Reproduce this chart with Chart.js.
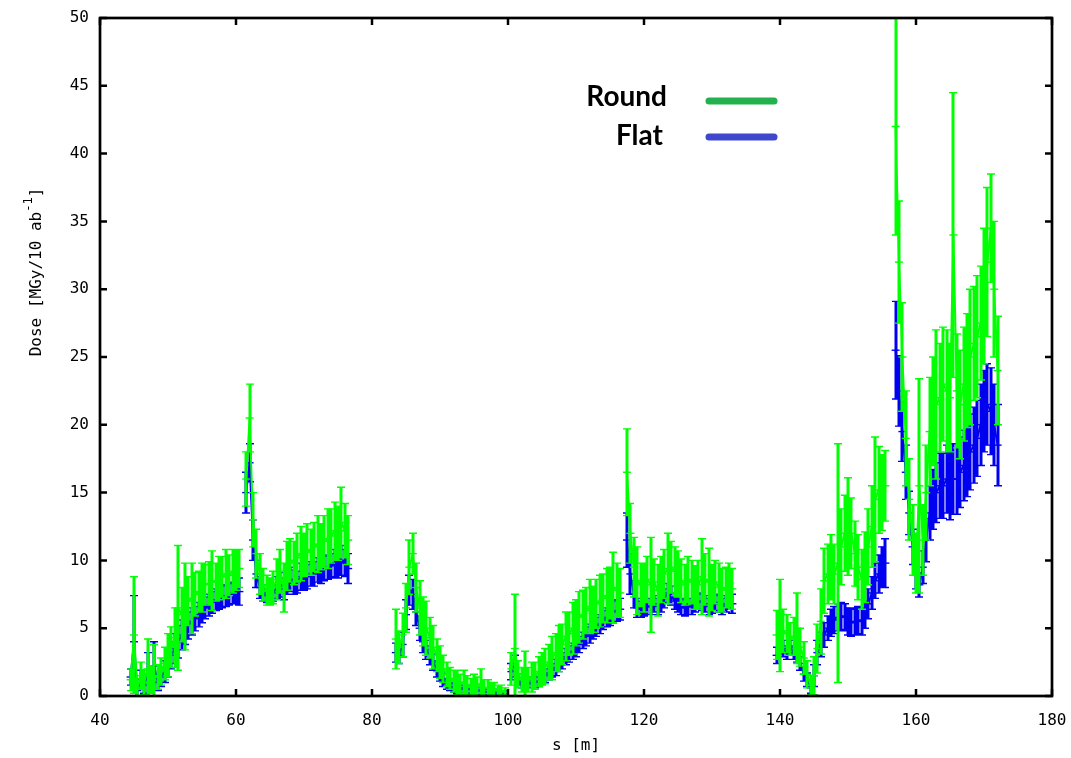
<!DOCTYPE html>
<html>
<head>
<meta charset="utf-8">
<title>Dose along s</title>
<script src="https://cdn.jsdelivr.net/npm/chart.js@4.4.1/dist/chart.umd.min.js"></script>
<style>
  html, body { margin: 0; padding: 0; background: #fff; }
  #wrap { width: 1071px; height: 758px; }
</style>
</head>
<body>
<div id="wrap"><canvas id="doseChart" width="1071" height="758"></canvas></div>
<script>
// sampled every 0.5 m, one block per magnet stretch
const segmentStart = [44.5, 61.5, 83.5, 100.5, 117.5, 139.5, 157.0];
const sampleStep = 0.5;

const roundDose = [
  [1.2,4.5,0.6,1.5,1.0,2.0,1.2,1.5,1.4,1.8, 2.4,3.0,3.6,4.3,6.5,6.0,6.6,7.0,7.2,7.5, 7.7,8.0,8.2,8.3,8.5,8.4,8.7,8.8,9.0,8.9, 9.2,9.3,9.4],
  [16.0,20.5,13.0,10.5,9.0,8.2,7.8,7.7,8.0,8.6, 9.2,8.0,9.6,10.0,9.8,10.2,10.5,10.4,10.8,10.6, 11.0,11.2,11.0,11.4,11.6,11.8,12.2,12.0,12.8,12.2, 11.5],
  [4.2,3.6,4.5,6.5,9.5,10.5,8.0,6.5,5.5,5.0, 4.3,3.6,3.0,2.5,2.0,1.6,1.3,1.1,1.0,0.9, 1.0,0.8,0.7,0.8,0.7,0.9,0.6,0.6,0.5,0.5, 0.4,0.4,0.3],
  [2.0,3.5,1.6,1.2,1.5,1.2,1.4,1.5,1.8,2.0, 2.2,2.5,2.8,3.2,3.5,3.8,4.4,4.6,5.0,5.4, 5.8,6.0,6.3,6.6,6.4,6.8,7.0,7.2,7.4,7.6, 8.0,7.8,7.6],
  [16.5,12.0,9.5,8.5,8.2,8.0,8.6,8.2,8.4,7.8, 8.6,9.0,9.4,9.5,9.2,9.0,8.5,8.2,8.6,8.4, 8.0,8.2,8.8,8.6,8.4,8.0,8.4,8.0,7.8,8.0, 8.2,7.9],
  [4.5,5.2,4.8,4.6,4.2,4.4,5.0,3.6,2.8,1.6, 0.8,1.5,3.5,5.5,8.5,9.0,9.5,9.0,9.8,11.0, 12.0,12.5,12.0,10.5,9.5,8.6,9.5,11.0,12.5,14.5, 15.2,15.0,15.5],
  [42.0,32.0,25.0,19.0,14.5,11.5,9.8,15.5,11.5,15.0, 19.5,21.0,21.5,22.0,23.0,22.5,22.0,34.0,22.5,21.5, 23.0,24.0,25.0,26.0,26.5,27.5,29.5,32.0,34.5,30.0, 24.0]
];
const roundErr = [
  [0.8,4.3,0.7,1.0,0.9,2.2,1.0,2.3,0.9,1.0, 1.2,1.6,1.5,2.2,4.6,2.0,3.2,1.8,2.6,1.6, 1.5,1.8,1.5,1.6,2.2,1.4,1.6,1.5,1.8,1.5, 1.6,1.5,1.4],
  [2.0,2.5,2.0,1.8,1.5,1.2,1.1,1.0,1.2,1.5, 1.6,1.8,1.8,1.6,1.6,1.8,2.0,1.6,1.9,1.7, 1.8,2.1,1.7,1.9,2.2,2.0,2.1,2.0,2.6,2.0, 1.8],
  [2.2,1.2,1.6,1.8,2.0,1.5,1.8,2.0,1.8,2.0, 1.5,1.6,1.2,1.2,1.0,0.9,0.8,0.8,0.9,0.7, 0.9,0.7,0.6,0.8,0.7,1.1,0.6,0.6,0.5,0.5, 0.4,0.4,0.3],
  [1.2,4.0,1.0,0.9,1.8,0.9,1.1,1.0,1.1,1.2, 1.3,1.3,1.6,1.4,1.7,1.5,1.8,1.6,1.9,1.7, 1.9,1.8,1.7,2.0,1.7,1.8,1.9,1.8,2.0,1.9, 2.6,2.0,1.8],
  [3.2,2.2,2.2,2.5,1.6,1.8,1.7,3.5,1.7,1.9, 1.7,1.8,2.6,1.9,1.8,1.7,1.6,1.5,1.7,1.6, 1.6,1.8,2.8,1.9,2.5,1.7,1.6,1.8,1.6,1.5, 1.6,1.5],
  [1.8,3.4,1.6,1.4,1.2,1.4,2.6,1.4,1.2,1.0, 0.7,1.4,1.8,2.4,2.4,2.2,2.4,2.2,8.8,2.8, 2.8,3.6,2.6,2.4,2.4,2.2,2.6,2.8,3.0,4.6, 3.2,2.8,2.6],
  [8.0,4.5,4.0,3.5,3.0,2.6,2.2,7.9,2.6,3.5, 4.0,4.0,5.5,4.0,4.2,4.5,4.0,10.5,4.2,4.0, 4.2,4.2,5.0,4.2,4.5,4.2,5.0,5.5,4.0,5.0, 4.0]
];
const flatDose = [
  [1.4,4.0,0.4,1.2,0.8,1.6,1.0,2.2,1.0,1.4, 1.8,2.4,3.0,3.5,4.0,4.5,4.9,5.2,5.5,5.7, 6.0,6.2,6.5,6.7,6.9,7.1,7.2,7.3,7.4,7.5, 7.6,7.6,7.7],
  [15.0,17.2,11.5,9.0,8.0,7.6,7.4,7.4,7.6,8.0, 8.2,7.9,8.4,8.6,8.4,8.4,8.8,8.6,8.8,9.0, 9.0,9.3,9.2,9.4,9.5,9.6,9.8,9.7,10.0,9.8, 9.4],
  [3.2,3.0,3.8,6.0,7.8,7.5,6.2,5.0,4.0,3.4, 3.0,2.5,2.0,1.6,1.2,0.9,0.7,0.6,0.6,0.5, 0.6,0.5,0.5,0.4,0.4,0.4,0.3,0.3,0.3,0.3, 0.2,0.2,0.2],
  [1.8,2.2,1.2,0.9,0.9,0.9,1.0,1.0,1.1,1.3, 1.5,1.7,1.9,2.1,2.4,2.6,2.9,3.1,3.3,3.5, 3.8,4.1,4.4,4.6,4.9,5.1,5.3,5.6,5.8,6.0, 6.2,6.3,6.4],
  [11.5,9.0,7.5,6.5,6.4,6.5,6.6,6.6,6.8,6.6, 6.8,7.2,7.6,7.4,7.0,6.8,6.6,6.5,6.6,6.6, 6.8,7.0,6.9,6.8,6.6,6.7,6.9,6.8,6.6,6.8, 7.0,6.8],
  [3.0,3.8,3.5,3.2,3.6,3.2,3.0,2.4,1.6,1.2, 0.6,1.5,3.2,3.8,4.5,5.0,5.4,5.6,5.8,5.9, 5.8,5.5,5.4,5.5,5.6,5.5,6.0,6.8,7.6,8.5, 9.0,9.5,9.8],
  [25.5,22.5,19.5,16.5,13.5,11.0,9.0,8.2,9.5,11.5, 13.5,14.5,15.0,15.5,15.5,16.0,15.5,16.0,16.0,16.5, 17.0,17.5,18.0,18.5,19.0,20.0,21.0,21.5,21.0,20.0, 18.5]
];
const flatErr = [
  [0.6,3.4,0.5,0.7,0.6,1.6,0.7,1.8,0.6,0.7, 0.8,1.0,1.0,1.1,1.2,1.1,1.1,1.0,1.0,0.9, 0.9,0.8,0.8,0.8,0.8,0.8,0.8,0.8,0.8,0.8, 0.8,0.8,1.0],
  [1.5,1.4,1.5,1.0,0.8,0.6,0.5,0.5,0.6,0.8, 0.9,0.8,0.9,0.9,0.9,0.8,1.0,0.8,0.9,0.9, 0.9,0.9,0.9,0.9,0.9,0.9,1.0,1.0,1.1,1.0, 1.1],
  [0.7,0.6,0.9,1.1,1.1,1.1,1.0,0.9,0.8,0.7, 0.7,0.6,0.6,0.5,0.5,0.4,0.3,0.3,0.4,0.3, 0.4,0.3,0.3,0.3,0.3,0.3,0.2,0.2,0.2,0.2, 0.2,0.2,0.2],
  [0.6,0.8,0.4,0.3,0.3,0.3,0.4,0.4,0.4,0.4, 0.5,0.5,0.5,0.6,0.6,0.6,0.6,0.6,0.6,0.6, 0.6,0.6,0.7,0.7,0.7,0.7,0.7,0.7,0.7,0.8, 0.8,0.8,0.8],
  [2.0,1.5,1.0,0.7,0.6,0.6,0.6,0.6,0.6,0.6, 0.6,0.7,0.7,0.7,0.6,0.6,0.6,0.6,0.6,0.6, 0.6,0.6,0.6,0.6,0.6,0.6,0.6,0.6,0.6,0.6, 0.6,0.7],
  [0.6,0.7,0.6,0.5,0.5,0.5,0.5,0.5,0.5,0.5, 0.4,0.8,0.9,0.9,0.9,0.9,1.0,1.0,1.0,1.0, 1.0,1.0,1.0,1.0,1.0,1.0,1.0,1.1,1.2,1.3, 1.4,1.5,1.8],
  [3.6,2.6,2.2,2.0,1.6,1.3,1.1,0.9,1.2,1.6, 2.0,2.2,2.2,2.4,2.4,2.5,2.5,2.6,2.6,2.6, 2.6,2.8,2.8,2.8,2.8,3.0,3.0,3.0,3.2,3.0, 3.0]
];

const sRange = [40, 180];
const sTickStep = 20;
const doseRange = [0, 50];
const doseTickStep = 5;
const seriesNames = ['Round', 'Flat'];

// flatten the blocks into {x, y, err}; a null point between blocks breaks the line
function buildPoints(dose, err) {
  const pts = [];
  dose.forEach((block, k) => {
    block.forEach((v, j) => {
      pts.push({ x: segmentStart[k] + j * sampleStep, y: v, err: err[k][j] });
    });
    pts.push({ x: segmentStart[k] + block.length * sampleStep, y: null, err: 0 });
  });
  return pts;
}

const FONT = '"DejaVu Sans Mono", monospace';

const errorBars = {
  id: 'errorBars',
  afterDatasetDraw(chart, args) {
    const ds = chart.data.datasets[args.index];
    const meta = args.meta;
    const y = chart.scales.y;
    const a = chart.chartArea;
    const ctx = chart.ctx;
    ctx.save();
    ctx.beginPath();
    ctx.rect(a.left, a.top, a.right - a.left, a.bottom - a.top);
    ctx.clip();
    ctx.strokeStyle = ds.borderColor;
    const bars = new Path2D(), caps = new Path2D();
    meta.data.forEach((el, i) => {
      const d = ds.data[i];
      if (d.y == null) return;
      const px = Math.round(el.x);
      const top = y.getPixelForValue(d.y + d.err);
      const bot = y.getPixelForValue(d.y - d.err);
      bars.moveTo(px, top); bars.lineTo(px, bot);
      caps.moveTo(px - 4, top); caps.lineTo(px + 4, top);
      caps.moveTo(px - 4, bot); caps.lineTo(px + 4, bot);
    });
    ctx.lineWidth = 3;
    ctx.stroke(bars);
    ctx.lineWidth = 1.4;
    ctx.stroke(caps);
    ctx.restore();
  }
};

const frameAndLabels = {
  id: 'frameAndLabels',
  afterDraw(chart) {
    const ctx = chart.ctx;
    const a = chart.chartArea;
    const xs = chart.scales.x, ys = chart.scales.y;
    ctx.save();
    ctx.strokeStyle = '#000';
    ctx.lineWidth = 2.7;
    ctx.strokeRect(a.left, a.top, a.right - a.left, a.bottom - a.top);

    // inward ticks on all four sides
    ctx.lineWidth = 2.5;
    ctx.beginPath();
    xs.ticks.forEach(t => {
      const px = xs.getPixelForValue(t.value);
      ctx.moveTo(px, a.bottom); ctx.lineTo(px, a.bottom - 7);
      ctx.moveTo(px, a.top); ctx.lineTo(px, a.top + 7);
    });
    ys.ticks.forEach(t => {
      const py = ys.getPixelForValue(t.value);
      ctx.moveTo(a.left, py); ctx.lineTo(a.left + 7, py);
      ctx.moveTo(a.right, py); ctx.lineTo(a.right - 7, py);
    });
    ctx.stroke();

    // axis titles
    ctx.fillStyle = '#000';
    ctx.font = '16px ' + FONT;
    ctx.textAlign = 'center';
    ctx.textBaseline = 'middle';
    ctx.fillText('s [m]', (a.left + a.right) / 2, 746);

    ctx.save();
    ctx.translate(36, 272);
    ctx.rotate(-Math.PI / 2);
    const main = 'Dose [MGy/10 ab', sup = '-1', tail = ']';
    ctx.font = '16px ' + FONT;
    const wMain = ctx.measureText(main).width;
    const wTail = ctx.measureText(tail).width;
    ctx.font = '12px ' + FONT;
    const wSup = ctx.measureText(sup).width;
    const x0 = -(wMain + wSup + wTail) / 2;
    ctx.textAlign = 'left';
    ctx.textBaseline = 'alphabetic';
    ctx.font = '16px ' + FONT;
    ctx.fillText(main, x0, 5);
    ctx.font = '12px ' + FONT;
    ctx.fillText(sup, x0 + wMain, -4);
    ctx.font = '16px ' + FONT;
    ctx.fillText(tail, x0 + wMain + wSup, 5);
    ctx.restore();

    // key
    const keyColors = ['#22b14c', '#3f48cc'];
    const keyRows = [101, 137];
    ctx.font = 'bold 28px Lato, "Open Sans", sans-serif';
    ctx.textAlign = 'right';
    ctx.textBaseline = 'alphabetic';
    ctx.lineCap = 'round';
    ctx.lineWidth = 7;
    seriesNames.forEach((name, i) => {
      ctx.fillStyle = '#000';
      ctx.fillText(name, i === 0 ? 667 : 663, keyRows[i] + 5 + i * 3);
      ctx.strokeStyle = keyColors[i];
      ctx.beginPath();
      ctx.moveTo(709, keyRows[i]);
      ctx.lineTo(774, keyRows[i]);
      ctx.stroke();
    });
    ctx.restore();
  }
};

const tickFont = { family: FONT, size: 16 };

new Chart(document.getElementById('doseChart'), {
  type: 'scatter',
  data: {
    datasets: [
      {
        label: seriesNames[0],
        data: buildPoints(roundDose, roundErr),
        borderColor: '#00ff00',
        backgroundColor: '#00ff00',
        showLine: true,
        spanGaps: false,
        borderWidth: 2,
        pointStyle: 'line',
        pointRadius: 4,
        pointBorderWidth: 1.4
      },
      {
        label: seriesNames[1],
        data: buildPoints(flatDose, flatErr),
        borderColor: '#0000f0',
        backgroundColor: '#0000f0',
        showLine: true,
        spanGaps: false,
        borderWidth: 2,
        pointStyle: 'line',
        pointRadius: 4,
        pointBorderWidth: 1.4
      }
    ]
  },
  options: {
    responsive: false,
    animation: false,
    layout: { padding: { left: 0, top: 18, right: 19, bottom: 0 } },
    plugins: {
      legend: { display: false },
      tooltip: { enabled: false }
    },
    scales: {
      x: {
        type: 'linear',
        min: sRange[0],
        max: sRange[1],
        grid: { display: false, drawTicks: false },
        border: { display: false },
        ticks: { stepSize: sTickStep, font: tickFont, color: '#000', padding: 15, maxRotation: 0 },
        afterFit(scale) {
          scale.height = 62;
          scale.paddingLeft = 0;
          scale.paddingRight = 0;
        }
      },
      y: {
        min: doseRange[0],
        max: doseRange[1],
        grid: { display: false, drawTicks: false },
        border: { display: false },
        ticks: { stepSize: doseTickStep, font: tickFont, color: '#000', padding: 11 },
        afterFit(scale) {
          scale.width = 100;
          scale.paddingTop = 0;
          scale.paddingBottom = 0;
        }
      }
    }
  },
  plugins: [errorBars, frameAndLabels]
});
</script>
</body>
</html>
